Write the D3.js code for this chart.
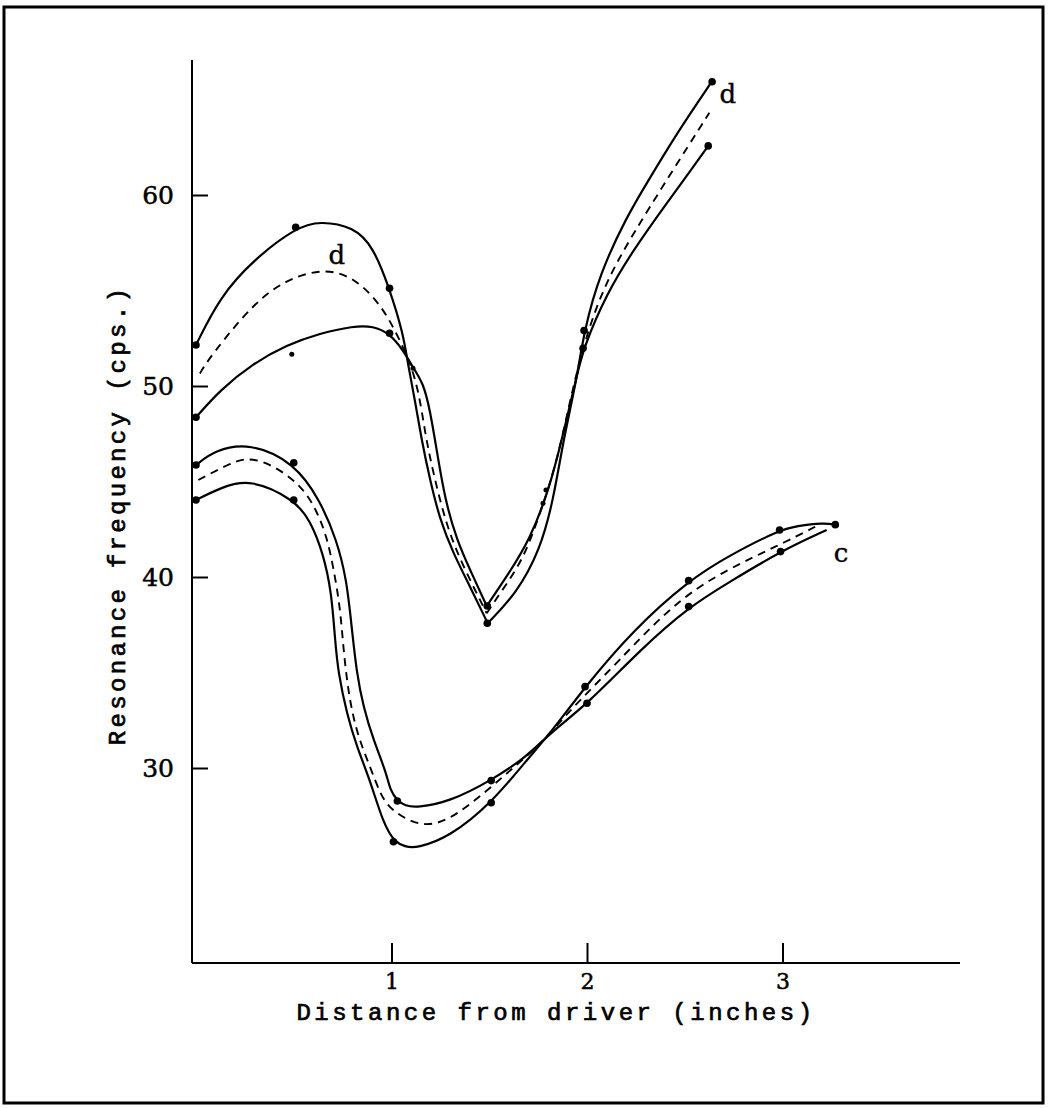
<!DOCTYPE html>
<html>
<head>
<meta charset="utf-8">
<script src="https://cdn.jsdelivr.net/npm/d3@7/dist/d3.min.js"></script>
<style>
  html, body { margin: 0; padding: 0; background: #fff; }
  svg { display: block; }
  .tick text { font-family: "DejaVu Serif", serif; }
</style>
</head>
<body>
<svg id="chart" width="1049" height="1108"></svg>
<script>
// ---- Hand-fitted curves (distance in inches, frequency in cps) ----
// Upper "d" envelope
const dUpperX = [0, 0.123, 0.293, 0.513, 0.634, 0.805, 0.907, 0.989, 1.06, 1.086, 1.12, 1.154, 1.197, 1.248, 1.316, 1.402, 1.492, 1.64, 1.76, 1.828, 1.879, 1.947, 1.985, 2.066, 2.203, 2.305, 2.459, 2.638];
const dUpperY = [52.15, 54.68, 56.6, 58.31, 58.64, 58.34, 57.29, 55.12, 52.76, 51.01, 49.27, 47.17, 45.08, 42.98, 41.24, 39.49, 37.58, 39.15, 41.41, 44.03, 47.17, 50.31, 52.9, 55.9, 58.86, 60.61, 63.23, 65.93];
// Lower "d" envelope
const dLowerX = [0, 0.123, 0.293, 0.464, 0.634, 0.805, 0.907, 0.989, 1.06, 1.112, 1.163, 1.197, 1.231, 1.274, 1.334, 1.402, 1.487, 1.589, 1.708, 1.811, 1.879, 1.947, 1.981, 2.101, 2.237, 2.408, 2.544, 2.62];
const dLowerY = [48.36, 49.79, 51.19, 52.15, 52.76, 53.14, 53.14, 52.76, 51.88, 50.93, 50.14, 48.74, 46.65, 44.03, 41.94, 40.37, 38.48, 40.02, 41.94, 44.73, 47.52, 50.49, 51.97, 54.85, 57.12, 59.57, 61.48, 62.57];
// Mean "d" curve (dashed)
const dMeanX = [0.02, 0.072, 0.293, 0.464, 0.651, 0.805, 0.941, 1.027, 1.129, 1.171, 1.214, 1.282, 1.367, 1.487, 1.555, 1.674, 1.76, 1.845, 1.913, 1.998, 2.101, 2.237, 2.408, 2.626];
const dMeanY = [50.66, 51.53, 54.33, 55.59, 56.16, 55.72, 54.33, 52.76, 50.49, 47.52, 45.43, 42.63, 40.54, 38.1, 39.15, 40.89, 43.34, 45.95, 49.27, 52.76, 55.55, 57.99, 60.79, 64.31];

// Upper "c" envelope
const cUpperX = [0, 0.097, 0.276, 0.503, 0.634, 0.72, 0.771, 0.796, 0.822, 0.856, 0.907, 0.975, 0.992, 1.032, 1.069, 1.129, 1.299, 1.509, 1.692, 1.819, 2.007, 2.271, 2.523, 2.731, 2.987, 3.226];
const cUpperY = [45.86, 46.65, 47.03, 45.98, 44.03, 41.94, 39.84, 37.4, 34.96, 33.21, 31.47, 29.72, 28.85, 28.27, 28.03, 27.92, 28.24, 29.34, 30.59, 31.9, 33.39, 36.18, 38.45, 39.75, 41.33, 42.46];
// Lower "c" envelope
const cLowerX = [0, 0.123, 0.276, 0.506, 0.583, 0.651, 0.694, 0.711, 0.728, 0.771, 0.822, 0.89, 0.958, 1.014, 1.069, 1.129, 1.299, 1.513, 1.692, 1.819, 1.99, 2.237, 2.518, 2.731, 2.985, 3.073, 3.209, 3.274];
const cLowerY = [44.03, 44.66, 45.17, 44.03, 42.98, 41.24, 39.15, 36.7, 34.96, 32.86, 31.12, 29.37, 27.1, 26.14, 25.88, 25.8, 26.4, 28.18, 30.42, 31.9, 34.26, 37.23, 39.81, 41.15, 42.46, 42.67, 42.84, 42.74];
// Mean "c" curve (dashed)
const cMeanX = [0.012, 0.191, 0.259, 0.362, 0.532, 0.617, 0.669, 0.702, 0.737, 0.753, 0.779, 0.822, 0.89, 0.941, 0.992, 1.163, 1.334, 1.589, 1.76, 1.913, 2.152, 2.485, 2.817, 2.985, 3.175];
const cMeanY = [45.08, 46.04, 46.21, 46.04, 44.91, 43.51, 42.11, 40.54, 38.45, 36.35, 33.91, 31.82, 30.07, 28.68, 27.8, 26.79, 27.45, 29.72, 31.2, 33.04, 35.48, 39.1, 40.89, 41.68, 42.67];

// ---- Measured points ----
const dotX = [0, 0.51, 0.99, 1.49, 1.985, 2.64, 0, 0.99, 1.49, 1.98, 2.62,
              0, 0.5, 1.03, 1.51, 2.0, 2.52, 2.99, 0, 0.5, 1.01, 1.51, 1.99, 2.52, 2.985, 3.27];
const dotY = [52.15, 58.31, 55.12, 37.58, 52.9, 65.93, 48.36, 52.76, 38.48, 51.97, 62.57,
              45.86, 45.98, 28.27, 29.34, 33.39, 38.45, 41.33, 44.03, 44.03, 26.14, 28.18, 34.26, 39.81, 42.46, 42.74];
// Smaller, isolated readings
const smallDotX = [0.49, 1.11, 1.79, 1.775];
const smallDotY = [51.66, 50.93, 44.55, 43.86];

// ---- Curve labels ----
const curveLabels = ["d", "d", "c"];
const curveLabelX = [0.72, 2.72, 3.3];
const curveLabelY = [56.4, 64.8, 40.8];

// ---- Axis ticks and titles ----
const xTicks = [1, 2, 3];
const yTicks = [30, 40, 50, 60];
const xTitle = "Distance from driver (inches)";
const yTitle = "Resonance frequency (cps.)";

const svg = d3.select("#chart");

// Outer frame
svg.append("rect")
  .attr("x", 4).attr("y", 7).attr("width", 1039).attr("height", 1096)
  .attr("fill", "none").attr("stroke", "#000").attr("stroke-width", 3);

const x = d3.scaleLinear().domain([0, 3]).range([196, 782.5]);
const y = d3.scaleLinear().domain([30, 60]).range([768, 195]);

const axisLeftX = 192;
const axisBottomY = 963;

// Axis lines
svg.append("line")
  .attr("x1", axisLeftX).attr("x2", axisLeftX)
  .attr("y1", 60).attr("y2", axisBottomY)
  .attr("stroke", "#000").attr("stroke-width", 2);
svg.append("line")
  .attr("x1", axisLeftX).attr("x2", 960)
  .attr("y1", axisBottomY).attr("y2", axisBottomY)
  .attr("stroke", "#000").attr("stroke-width", 2);

// Bottom axis: ticks point up into the plot, labels below
const gx = svg.append("g")
  .attr("transform", `translate(0,${axisBottomY})`)
  .call(d3.axisBottom(x).tickValues(xTicks).tickFormat(d3.format("d"))
    .tickSizeInner(-20).tickSizeOuter(0).tickPadding(10));
gx.select(".domain").remove();
gx.selectAll(".tick line").attr("stroke", "#000").attr("stroke-width", 2);
gx.selectAll(".tick text").attr("font-size", 22).attr("fill", "#000")
  .attr("stroke", "#000").attr("stroke-width", 0.5);

// Left axis: ticks point right into the plot
const gy = svg.append("g")
  .attr("transform", `translate(${axisLeftX},0)`)
  .call(d3.axisLeft(y).tickValues(yTicks).tickFormat(d3.format("d"))
    .tickSizeInner(-16).tickSizeOuter(0).tickPadding(18));
gy.select(".domain").remove();
gy.selectAll(".tick line").attr("stroke", "#000").attr("stroke-width", 2);
gy.selectAll(".tick text").attr("font-size", 25).attr("fill", "#000")
  .attr("stroke", "#000").attr("stroke-width", 0.5);

// Axis titles (typewriter style)
svg.append("text")
  .attr("x", 556).attr("y", 1020)
  .attr("text-anchor", "middle")
  .attr("font-family", "Liberation Mono, monospace")
  .attr("font-size", 24).attr("letter-spacing", 3.5)
  .attr("stroke", "#000").attr("stroke-width", 0.7)
  .text(xTitle);
svg.append("text")
  .attr("transform", "translate(125,515) rotate(-90)")
  .attr("text-anchor", "middle")
  .attr("font-family", "Liberation Mono, monospace")
  .attr("font-size", 24).attr("letter-spacing", 3.3)
  .attr("stroke", "#000").attr("stroke-width", 0.7)
  .text(yTitle);

// Curves: smooth B-splines over the traced points; the "d" curves are split at their sharp minimum
const line = d3.line()
  .x(d => x(d[0])).y(d => y(d[1]))
  .curve(d3.curveBasis);
const zip = (xs, ys) => xs.map((v, i) => [v, ys[i]]);
const splitAtMin = (xs, ys) => {
  const pts = zip(xs, ys);
  const k = d3.minIndex(ys);
  return [pts.slice(0, k + 1), pts.slice(k)];
};

const solid = [
  ...splitAtMin(dUpperX, dUpperY),
  ...splitAtMin(dLowerX, dLowerY),
  zip(cUpperX, cUpperY),
  zip(cLowerX, cLowerY)
];
const dashed = [
  ...splitAtMin(dMeanX, dMeanY),
  zip(cMeanX, cMeanY)
];

svg.append("g").selectAll("path").data(solid).join("path")
  .attr("d", line).attr("fill", "none")
  .attr("stroke", "#000").attr("stroke-width", 2.2)
  .attr("stroke-linejoin", "round");

svg.append("g").selectAll("path").data(dashed).join("path")
  .attr("d", line).attr("fill", "none")
  .attr("stroke", "#000").attr("stroke-width", 1.9)
  .attr("stroke-dasharray", "8,6");

// Points
svg.append("g").selectAll("circle").data(zip(dotX, dotY)).join("circle")
  .attr("cx", d => x(d[0])).attr("cy", d => y(d[1])).attr("r", 3.8).attr("fill", "#000");
svg.append("g").selectAll("circle").data(zip(smallDotX, smallDotY)).join("circle")
  .attr("cx", d => x(d[0])).attr("cy", d => y(d[1])).attr("r", 2.5).attr("fill", "#000");

// Curve labels
svg.append("g").selectAll("text").data(curveLabels).join("text")
  .attr("x", (d, i) => x(curveLabelX[i])).attr("y", (d, i) => y(curveLabelY[i]))
  .attr("text-anchor", "middle")
  .attr("font-family", "DejaVu Serif, serif").attr("font-size", 26)
  .attr("stroke", "#000").attr("stroke-width", 0.4)
  .text(d => d);
</script>
</body>
</html>
